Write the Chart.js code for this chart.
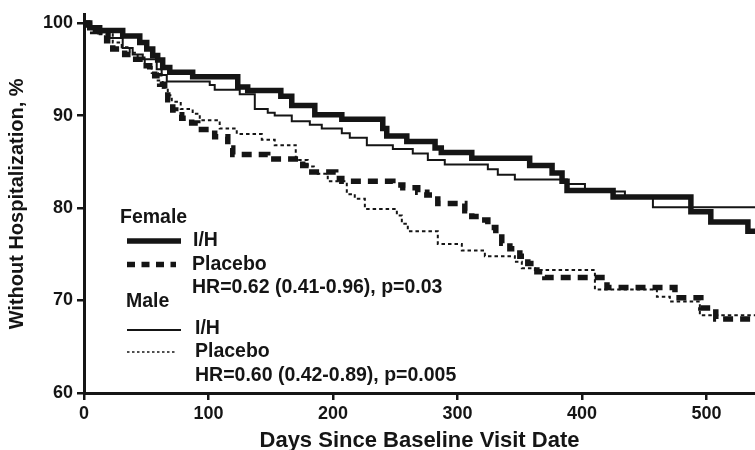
<!DOCTYPE html>
<html>
<head>
<meta charset="utf-8">
<script src="https://cdn.jsdelivr.net/npm/chart.js@4.4.1/dist/chart.umd.min.js"></script>
<style>
  html, body { margin: 0; padding: 0; background: #fff; }
  #wrap { width: 755px; height: 450px; }
</style>
</head>
<body>
<div id="wrap"><canvas id="c" width="755" height="450"></canvas></div>
<script>
// ---- Data ----
const xTickValues = [0, 100, 200, 300, 400, 500];
const yTickValues = [60, 70, 80, 90, 100];

const femaleIHDays   = [0, 4.6, 12.6, 31.1, 44.8, 50.4, 55.2, 59.2, 63.2, 68.9, 87.3, 123.5, 131.5, 158.1, 166.9, 185.4, 207.1, 240.0, 243.2, 259.3, 282, 287, 311.5, 358, 376, 384, 388, 425, 487.5, 503.5, 533.3, 539];
const femaleIHValues = [100, 99.5, 99.2, 98.6, 97.9, 97.2, 96.5, 96.0, 95.2, 94.7, 94.2, 93.1, 92.7, 92.1, 91.1, 90.1, 89.6, 88.6, 87.8, 87.2, 86.5, 86.0, 85.4, 84.6, 83.8, 82.9, 81.9, 81.2, 79.6, 78.5, 77.5, 77.5];

const femalePlaceboDays   = [0, 3.0, 7.0, 12.6, 18.2, 23.1, 32.7, 38.3, 47.2, 52.8, 56.8, 60.8, 64.8, 67.3, 71.3, 73.7, 78.5, 86.5, 91.4, 105.0, 115.5, 119.5, 147.6, 175.7, 183.0, 202.2, 207.1, 248.1, 256.1, 268.1, 275.4, 284.2, 305.9, 311.5, 318.0, 324.4, 330.8, 335.6, 342.1, 350.1, 356.5, 363.8, 370.2, 420.1, 474.7, 495.5, 507.5, 539];
const femalePlaceboValues = [100, 99.8, 99.1, 98.7, 98.1, 97.2, 96.6, 96.1, 95.4, 94.8, 94.3, 93.4, 92.6, 91.7, 90.6, 90.1, 89.7, 89.2, 88.5, 87.7, 86.5, 85.8, 85.3, 84.6, 83.9, 83.2, 82.9, 82.5, 82.2, 81.7, 81.4, 80.5, 79.7, 79.1, 78.7, 77.9, 77.2, 76.2, 75.6, 74.8, 74.0, 73.1, 72.5, 71.4, 70.3, 69.2, 68.0, 68.0];

const maleIHDays   = [0, 4.6, 8.6, 20.7, 31.1, 39.1, 47.2, 58.4, 62.4, 66.5, 101.0, 105.0, 125.1, 137.2, 147.6, 153.2, 166.9, 181.4, 191.0, 207.1, 213.5, 227.2, 248.1, 264.1, 276.2, 289.8, 324.4, 332.4, 346.1, 387.9, 402.4, 434.5, 457.0, 539];
const maleIHValues = [100, 99.5, 99.0, 98.4, 97.3, 96.6, 96.1, 95.0, 94.4, 93.7, 93.3, 92.8, 92.3, 90.7, 90.3, 90.0, 89.4, 89.0, 88.6, 88.1, 87.6, 86.8, 86.4, 85.9, 85.2, 84.7, 84.2, 83.6, 83.1, 82.6, 81.8, 81.1, 80.1, 80.1];

const malePlaceboDays   = [0, 3.0, 8.6, 12.6, 23.1, 30.3, 36.7, 43.1, 48.8, 54.4, 59.2, 63.2, 67.3, 70.5, 77.7, 87.3, 93.0, 109.0, 122.7, 142.8, 153.2, 170.1, 179.7, 184.6, 195.8, 211.1, 217.5, 225.6, 251.3, 255.3, 260.1, 284.2, 303.5, 322.0, 346.1, 351.7, 362.2, 410.4, 460.2, 470.6, 494.7, 539];
const malePlaceboValues = [100, 99.6, 99.2, 98.8, 97.9, 97.4, 96.8, 96.0, 95.5, 94.6, 93.8, 93.0, 92.2, 91.5, 90.7, 90.2, 89.5, 88.6, 88.0, 87.4, 86.8, 85.2, 84.5, 83.7, 82.9, 81.5, 81.0, 79.9, 79.2, 78.3, 77.5, 76.1, 75.4, 74.8, 74.2, 73.5, 73.3, 71.2, 70.4, 69.9, 68.4, 68.4];

const femaleHeading = "Female";
const maleHeading = "Male";
const seriesNames = ["I/H", "Placebo", "I/H", "Placebo"];
const hrTexts = ["HR=0.62 (0.41-0.96), p=0.03", "HR=0.60 (0.42-0.89), p=0.005"];
const xTitle = "Days Since Baseline Visit Date";
const yTitle = "Without Hospitalization, %";

// ---- Build ----
const toPts = (xs, ys) => xs.map((x, i) => ({x: x, y: ys[i]}));
const INK = '#151515';
const FONT = '"Liberation Sans", Arial, Helvetica, sans-serif';

const styles = [
  {w: 5.5, dash: []},
  {w: 5.5, dash: [10, 7]},
  {w: 2, dash: []},
  {w: 2, dash: [3.5, 3]}
];

const legendPlugin = {
  id: 'kmLegend',
  afterDraw(chart) {
    const ctx = chart.ctx;
    ctx.save();
    ctx.fillStyle = INK;
    ctx.strokeStyle = INK;
    ctx.font = 'bold 19.5px ' + FONT;
    ctx.textBaseline = 'alphabetic';
    ctx.textAlign = 'left';
    ctx.fillText(femaleHeading, 120, 223);
    ctx.fillText(seriesNames[0], 193, 246);
    ctx.fillText(seriesNames[1], 192, 270);
    ctx.fillText(hrTexts[0], 192, 293);
    ctx.fillText(maleHeading, 126, 307);
    ctx.fillText(seriesNames[2], 195, 334);
    ctx.fillText(seriesNames[3], 195, 357);
    ctx.fillText(hrTexts[1], 195, 381);
    const sample = (x1, x2, y, w, dash) => {
      ctx.beginPath();
      ctx.lineWidth = w;
      ctx.setLineDash(dash);
      ctx.moveTo(x1, y);
      ctx.lineTo(x2, y);
      ctx.stroke();
    };
    sample(127, 181, 241, 5.5, []);
    sample(127, 176, 264.5, 5.5, [8, 6.5]);
    sample(127, 181, 330, 2, []);
    sample(127, 176, 352, 1.6, [2.5, 2.5]);
    ctx.restore();
  }
};

const seriesData = [
  toPts(femaleIHDays, femaleIHValues),
  toPts(femalePlaceboDays, femalePlaceboValues),
  toPts(maleIHDays, maleIHValues),
  toPts(malePlaceboDays, malePlaceboValues)
];

new Chart(document.getElementById('c'), {
  type: 'line',
  data: {
    datasets: seriesData.map((d, i) => ({
      label: seriesNames[i],
      data: d,
      borderColor: INK,
      borderWidth: styles[i].w,
      borderDash: styles[i].dash,
      borderCapStyle: 'butt',
      borderJoinStyle: 'miter',
      stepped: true,
      pointRadius: 0,
      fill: false,
      tension: 0
    }))
  },
  options: {
    responsive: false,
    animation: false,
    devicePixelRatio: 1,
    layout: { padding: { top: 12, left: 0, right: 0, bottom: 0 } },
    plugins: { legend: { display: false }, tooltip: { enabled: false } },
    scales: {
      x: {
        type: 'linear',
        min: 0,
        max: 539,
        afterFit(s) { s.height = 57; },
        afterBuildTicks(s) { s.ticks = xTickValues.map(v => ({value: v})); },
        ticks: { color: INK, font: { family: FONT, size: 18, weight: 'bold' }, padding: 3, maxRotation: 0 },
        grid: { display: true, drawOnChartArea: false, drawTicks: true, tickLength: 7, lineWidth: 2.5, color: INK },
        border: { display: true, color: INK, width: 3 },
        title: { display: true, text: xTitle, color: INK, font: { family: FONT, size: 22, weight: 'bold', lineHeight: 0.8 }, padding: 0 }
      },
      y: {
        type: 'linear',
        min: 60,
        max: 100.9,
        afterFit(s) { s.width = 84; },
        afterBuildTicks(s) { s.ticks = yTickValues.map(v => ({value: v})); },
        ticks: { color: INK, font: { family: FONT, size: 18, weight: 'bold' }, padding: 4 },
        grid: { display: true, drawOnChartArea: false, drawTicks: true, tickLength: 7, lineWidth: 2.5, color: INK },
        border: { display: true, color: INK, width: 3 },
        title: { display: true, text: yTitle, color: INK, font: { family: FONT, size: 20, weight: 'bold', lineHeight: 1.2 }, padding: { top: 5, bottom: 0 } }
      }
    }
  },
  plugins: [legendPlugin]
});
</script>
</body>
</html>
